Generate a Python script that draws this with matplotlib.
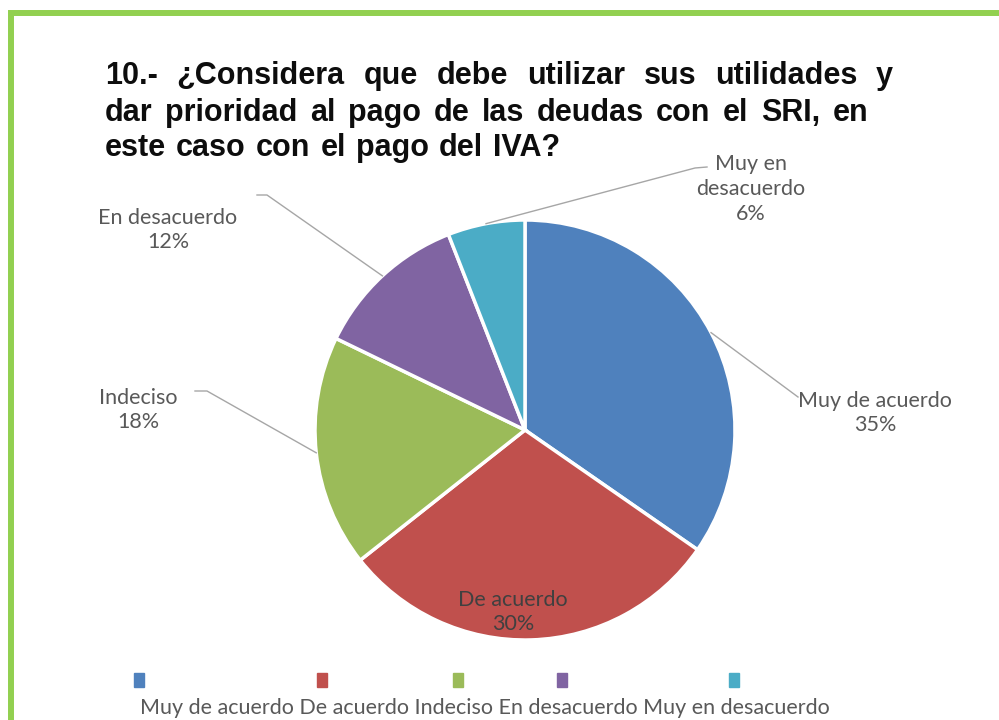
import numpy as np
import matplotlib.pyplot as plt
from matplotlib.patches import Rectangle
from matplotlib.lines import Line2D

# datos
categorias = ['Muy de acuerdo', 'De acuerdo', 'Indeciso', 'En desacuerdo', 'Muy en desacuerdo']
porcentajes = [35, 30, 18, 12, 6]
colores = ['#4F81BD', '#C0504D', '#9BBB59', '#8064A2', '#4BACC6']
etiquetas = ['Muy de acuerdo\n35%', 'De acuerdo\n30%', 'Indeciso\n18%',
             'En desacuerdo\n12%', 'Muy en\ndesacuerdo\n6%']
titulo = ['10.- ¿Considera que debe utilizar sus utilidades y',
          'dar prioridad al pago de las deudas con el SRI, en',
          'este caso con el pago del IVA?']

W, H = 999, 720
fig = plt.figure(figsize=(W/100, H/100), dpi=100)
fig.patch.set_facecolor('white')

def fx(x):
    return x / W

def fy(y):
    return 1 - y / H

# marco verde (recortado)
fig.add_artist(Line2D([fx(10.5), fx(10.5), 1.0], [0, fy(13), fy(13)],
                      color='#92D050', lw=4.3, solid_joinstyle='miter'))

# titulo justificado
def linea(texto, x0, x1, y):
    r = fig.canvas.get_renderer()
    palabras = texto.split()
    objs = [fig.text(0, fy(y), p, fontsize=22, fontweight='bold',
                     family='Liberation Sans', color='#0D0D0D', va='baseline')
            for p in palabras]
    anchos = [o.get_window_extent(r).width for o in objs]
    if x1 is None:
        hueco = objs[0].get_fontsize() * 0.33 * 100 / 72
    else:
        hueco = (x1 - x0 - sum(anchos)) / (len(palabras) - 1)
    x = x0
    for o, a in zip(objs, anchos):
        o.set_x(fx(x))
        x += a + hueco

linea(titulo[0], 105, 893, 84)
linea(titulo[1], 105, 868, 121)
linea(titulo[2], 105, None, 156)

# pastel
cx, cy, R = 525, 430, 210
ax = fig.add_axes([fx(cx - R), fy(cy + R), 2*R/W, 2*R/H])
cunas, _ = ax.pie(porcentajes, colors=colores, startangle=90, counterclock=False,
                  wedgeprops=dict(edgecolor='white', linewidth=2.5))
ax.set_xlim(-1, 1)
ax.set_ylim(-1, 1)
ax.axis('off')

def d(px, py):
    return ((px - cx) / R, (cy - py) / R)

pos_texto = [d(875, 413), d(513, 612), d(138, 410), d(168, 230), d(751, 189)]
codos = [None, None, [d(207, 391), d(195, 391)], [d(267, 195), d(257, 195)],
         [d(695, 168), d(707, 167)]]
finales = [[d(798, 397)], None, None, None, None]

for i, w in enumerate(cunas):
    ang = np.deg2rad((w.theta1 + w.theta2) / 2)
    borde = (np.cos(ang), np.sin(ang))
    pts = None
    if codos[i] is not None:
        pts = [borde] + codos[i]
    elif finales[i] is not None:
        pts = [borde] + finales[i]
    if pts is not None:
        xs, ys = zip(*pts)
        ax.plot(xs, ys, color='#A6A6A6', lw=1, clip_on=False)
    color = '#404040' if i == 1 else '#595959'
    ax.text(pos_texto[i][0], pos_texto[i][1], etiquetas[i], ha='center', va='center',
            fontsize=15.5, family='Lato', color=color, linespacing=1.3, clip_on=False)

# leyenda (en el original queda cortada abajo)
marcas_x = [139, 322, 458, 562, 734]
for mx, c in zip(marcas_x, colores):
    fig.add_artist(Rectangle((fx(mx - 5), fy(687)), 10/W, 14/H, color=c,
                             transform=fig.transFigure))
fig.text(fx(140), fy(698), ' '.join(categorias), fontsize=15.5, family='Lato',
         color='#595959', va='top', ha='left')

fig.savefig('out.png', dpi=100)
